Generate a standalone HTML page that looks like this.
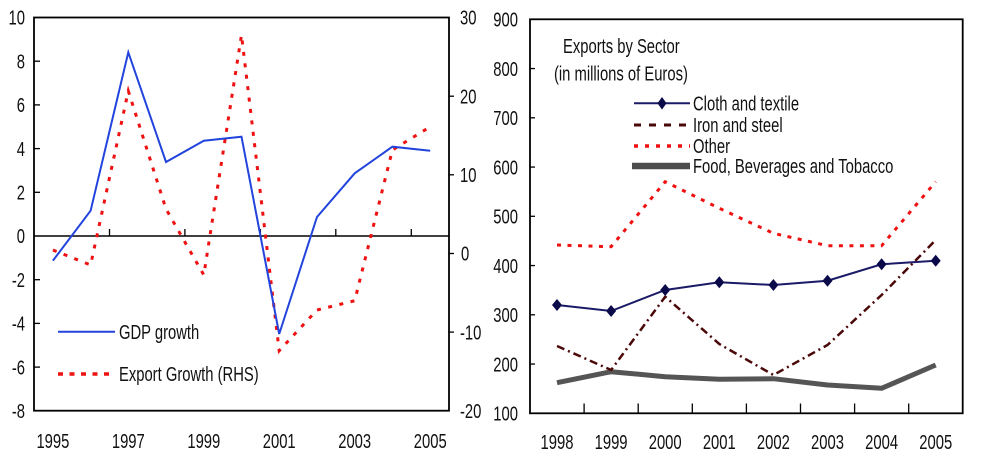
<!DOCTYPE html>
<html>
<head>
<meta charset="utf-8">
<style>
html,body{margin:0;padding:0;background:#fff;}
svg{display:block;}
text{font-family:"Liberation Sans",Arial,sans-serif;font-size:20px;fill:#111;}
</style>
</head>
<body>
<svg width="984" height="465" viewBox="0 0 984 465" xmlns="http://www.w3.org/2000/svg">
<rect width="984" height="465" fill="#fff"/>

<!-- LEFT CHART -->
<rect x="34" y="17.5" width="415" height="393.2" fill="none" stroke="#000" stroke-width="1.8"/>
<line x1="34" y1="236" x2="449" y2="236" stroke="#000" stroke-width="1.5"/>
<g stroke="#000" stroke-width="1.3">
  <line x1="109.5" y1="236" x2="109.5" y2="229"/>
  <line x1="184.9" y1="236" x2="184.9" y2="229"/>
  <line x1="260.4" y1="236" x2="260.4" y2="229"/>
  <line x1="335.8" y1="236" x2="335.8" y2="229"/>
  <line x1="411.3" y1="236" x2="411.3" y2="229"/>
  <line x1="34" y1="61.2" x2="40" y2="61.2"/>
  <line x1="34" y1="104.9" x2="40" y2="104.9"/>
  <line x1="34" y1="148.6" x2="40" y2="148.6"/>
  <line x1="34" y1="192.3" x2="40" y2="192.3"/>
  <line x1="34" y1="279.7" x2="40" y2="279.7"/>
  <line x1="34" y1="323.4" x2="40" y2="323.4"/>
  <line x1="34" y1="367.1" x2="40" y2="367.1"/>
  <line x1="449" y1="96.2" x2="454" y2="96.2"/>
  <line x1="449" y1="174.8" x2="454" y2="174.8"/>
  <line x1="449" y1="253.5" x2="454" y2="253.5"/>
  <line x1="449" y1="332.1" x2="454" y2="332.1"/>
</g>

<polyline fill="none" stroke="#ee1111" stroke-width="3" stroke-dasharray="4 7.5"
  points="52.9,250 90.6,265 128.3,91 166.0,209 203.8,275 241.5,35 279.2,350.7 317.0,310 354.7,300.7 392.4,150 430.2,126.7"/>
<polyline fill="none" stroke="#2244dd" stroke-width="2"
  points="52.9,260.7 90.6,210.7 128.3,52.3 166.0,162 203.8,140.7 241.5,136.7 279.2,334 317.0,217 354.7,173.3 392.4,146.7 430.2,150.7"/>

<line x1="58" y1="331.7" x2="115" y2="331.7" stroke="#2244dd" stroke-width="2"/>
<line x1="58" y1="374" x2="115" y2="374" stroke="#ee1111" stroke-width="3.5" stroke-dasharray="5 6.5"/>

<!-- RIGHT CHART -->
<rect x="530" y="19.3" width="432.7" height="394" fill="none" stroke="#000" stroke-width="1.8"/>
<g stroke="#000" stroke-width="1.3">
  <line x1="584.1" y1="413.3" x2="584.1" y2="403.5"/>
  <line x1="638.2" y1="413.3" x2="638.2" y2="403.5"/>
  <line x1="692.3" y1="413.3" x2="692.3" y2="403.5"/>
  <line x1="746.4" y1="413.3" x2="746.4" y2="403.5"/>
  <line x1="800.5" y1="413.3" x2="800.5" y2="403.5"/>
  <line x1="854.6" y1="413.3" x2="854.6" y2="403.5"/>
  <line x1="908.7" y1="413.3" x2="908.7" y2="403.5"/>
  <line x1="530" y1="68.55" x2="535" y2="68.55"/>
  <line x1="530" y1="117.8" x2="535" y2="117.8"/>
  <line x1="530" y1="167.05" x2="535" y2="167.05"/>
  <line x1="530" y1="216.3" x2="535" y2="216.3"/>
  <line x1="530" y1="265.55" x2="535" y2="265.55"/>
  <line x1="530" y1="314.8" x2="535" y2="314.8"/>
  <line x1="530" y1="364.05" x2="535" y2="364.05"/>
</g>

<polyline fill="none" stroke="#555" stroke-width="5" stroke-linejoin="round"
  points="557,382.7 611.1,371.7 665.2,376.7 719.3,379.3 773.4,378.7 827.5,385 881.6,388.3 935.7,365"/>
<polyline fill="none" stroke="#ee1111" stroke-width="3" stroke-dasharray="4 6.5"
  points="557,245 611.1,246.7 665.2,181.7 719.3,208.3 773.4,233.3 827.5,245.7 881.6,245.7 935.7,181.7"/>
<polyline fill="none" stroke="#4a0808" stroke-width="2.5" stroke-dasharray="8 4 2 4"
  points="557,346 611.1,370 665.2,296.7 719.3,344 773.4,375 827.5,345 881.6,295 935.7,240"/>
<polyline fill="none" stroke="#1a1a66" stroke-width="2"
  points="557,305 611.1,311 665.2,290 719.3,282.3 773.4,285 827.5,280.7 881.6,264.3 935.7,260.7"/>
<g fill="#0a0a4a">
  <path d="M557,299 L562,305 L557,311 L552,305 Z"/>
  <path d="M611.1,305 L616.1,311 L611.1,317 L606.1,311 Z"/>
  <path d="M665.2,284 L670.2,290 L665.2,296 L660.2,290 Z"/>
  <path d="M719.3,276.3 L724.3,282.3 L719.3,288.3 L714.3,282.3 Z"/>
  <path d="M773.4,279 L778.4,285 L773.4,291 L768.4,285 Z"/>
  <path d="M827.5,274.7 L832.5,280.7 L827.5,286.7 L822.5,280.7 Z"/>
  <path d="M881.6,258.3 L886.6,264.3 L881.6,270.3 L876.6,264.3 Z"/>
  <path d="M935.7,254.7 L940.7,260.7 L935.7,266.7 L930.7,260.7 Z"/>
</g>

<line x1="634" y1="103.3" x2="690" y2="103.3" stroke="#1a1a66" stroke-width="2"/>
<path d="M662,97 L666.5,103.3 L662,109.6 L657.5,103.3 Z" fill="#0a0a4a"/>
<line x1="634" y1="125" x2="690" y2="125" stroke="#4a0808" stroke-width="3" stroke-dasharray="7 8"/>
<line x1="634" y1="146" x2="690" y2="146" stroke="#ee1111" stroke-width="3.5" stroke-dasharray="4 7"/>
<line x1="632" y1="166" x2="690" y2="166" stroke="#4d4d4d" stroke-width="6.5"/>

<g transform="scale(0.74,1)">
  <g text-anchor="end">
    <text x="33.8" y="24.7">10</text>
    <text x="33.8" y="68.4">8</text>
    <text x="33.8" y="112.1">6</text>
    <text x="33.8" y="155.8">4</text>
    <text x="33.8" y="199.5">2</text>
    <text x="33.8" y="243.2">0</text>
    <text x="33.8" y="286.9">-2</text>
    <text x="33.8" y="330.6">-4</text>
    <text x="33.8" y="374.3">-6</text>
    <text x="33.8" y="418">-8</text>
  </g>
  <g text-anchor="start">
    <text x="621.6" y="24.7">30</text>
    <text x="621.6" y="103.4">20</text>
    <text x="621.6" y="182">10</text>
    <text x="622.9" y="260.7">0</text>
    <text x="621.6" y="339.3">-10</text>
    <text x="621.6" y="417.9">-20</text>
  </g>
  <g text-anchor="middle">
    <text x="71.5" y="448.2">1995</text>
    <text x="173.4" y="448.2">1997</text>
    <text x="275.4" y="448.2">1999</text>
    <text x="377.3" y="448.2">2001</text>
    <text x="479.3" y="448.2">2003</text>
    <text x="581.4" y="448.2">2005</text>
  </g>
  <text x="160.8" y="338.9">GDP growth</text>
  <text x="160.8" y="381.2">Export Growth (RHS)</text>

  <g text-anchor="end">
    <text x="700" y="26.5">900</text>
    <text x="700" y="75.8">800</text>
    <text x="700" y="125">700</text>
    <text x="700" y="174.3">600</text>
    <text x="700" y="223.5">500</text>
    <text x="700" y="272.8">400</text>
    <text x="700" y="322">300</text>
    <text x="700" y="371.3">200</text>
    <text x="700" y="420.5">100</text>
  </g>
  <g text-anchor="middle">
    <text x="752.7" y="448.9">1998</text>
    <text x="825.8" y="448.9">1999</text>
    <text x="898.9" y="448.9">2000</text>
    <text x="972.0" y="448.9">2001</text>
    <text x="1045.1" y="448.9">2002</text>
    <text x="1118.2" y="448.9">2003</text>
    <text x="1191.4" y="448.9">2004</text>
    <text x="1264.5" y="448.9">2005</text>
  </g>
  <text x="760.8" y="52.9">Exports by Sector</text>
  <text x="748.6" y="80.5">(in millions of Euros)</text>
  <text x="936.5" y="110.5">Cloth and textile</text>
  <text x="936.5" y="132.2">Iron and steel</text>
  <text x="936.5" y="153.2">Other</text>
  <text x="936.5" y="173.2">Food, Beverages and Tobacco</text>
</g>
</svg>
</body>
</html>
